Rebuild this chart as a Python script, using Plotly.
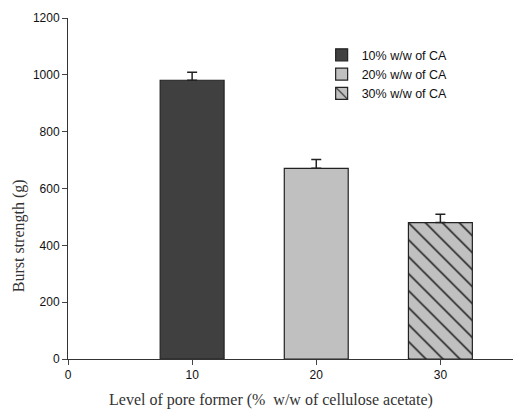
import plotly.graph_objects as go

levels = [10, 20, 30]
burst = [981, 671, 480]
err = [28, 31, 29]
names = ["10% w/w of CA", "20% w/w of CA", "30% w/w of CA"]
colors = ["#404040", "#c0c0c0", "#c0c0c0"]
patterns = ["", "", "\\"]
x_title = "Level of pore former (%  w/w of cellulose acetate)"
y_title = "Burst strength (g)"

fig = go.Figure()
for i in range(3):
    fig.add_trace(go.Bar(
        x=[levels[i]], y=[burst[i]], name=names[i], width=5.15,
        marker=dict(color=colors[i], line=dict(color="#222222", width=1.2),
                    pattern=dict(shape=patterns[i], fgcolor="#111111", bgcolor=colors[i],
                                 size=12, solidity=0.12, fillmode="replace")),
        error_y=dict(type="data", array=[err[i]], arrayminus=[0], symmetric=False,
                     color="#222222", thickness=1.5, width=5),
    ))

title_font = dict(family="Liberation Serif, Times New Roman", size=16, color="#333333")
fig.update_layout(
    width=513, height=412,
    margin=dict(l=68, r=0, t=18, b=53),
    plot_bgcolor="white", paper_bgcolor="white",
    font=dict(family="Liberation Sans, Arial", size=12, color="#111111"),
    showlegend=True,
    legend=dict(x=0.57, y=0.935, xanchor="left", yanchor="top",
                font=dict(family="Liberation Sans, Arial", size=12.5),
                bgcolor="rgba(0,0,0,0)", tracegroupgap=0, itemwidth=30),
    barmode="overlay",
    annotations=[
        dict(text=x_title, xref="paper", yref="paper", x=0.456, y=-0.12,
             xanchor="center", yanchor="middle", showarrow=False, font=title_font),
        dict(text=y_title, xref="paper", yref="paper", x=-0.11, y=0.36, textangle=-90,
             xanchor="center", yanchor="middle", showarrow=False, font=title_font),
    ],
)
fig.update_xaxes(range=[0, 35.85], tickvals=[0, 10, 20, 30], ticks="outside", ticklen=5,
                 showline=True, linecolor="#333333", linewidth=1, showgrid=False, zeroline=False)
fig.update_yaxes(range=[0, 1200], tickvals=[0, 200, 400, 600, 800, 1000, 1200], ticks="outside", ticklen=5,
                 showline=True, linecolor="#333333", linewidth=1, showgrid=False, zeroline=False)

fig.write_html("out.html")
